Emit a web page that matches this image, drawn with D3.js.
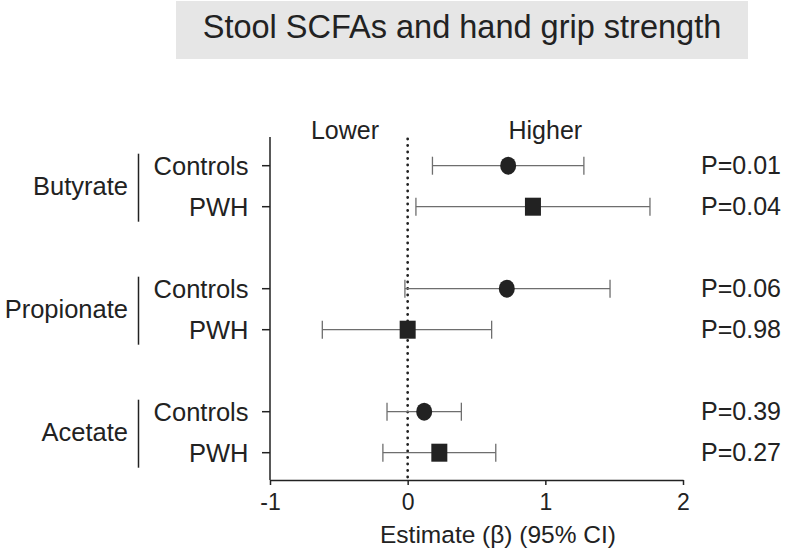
<!DOCTYPE html>
<html>
<head>
<meta charset="utf-8">
<script src="https://cdn.jsdelivr.net/npm/d3@7"></script>
<style>
  html, body { margin: 0; padding: 0; background: #fff; }
  svg { display: block; font-family: "Liberation Sans", Arial, Helvetica, sans-serif; }
</style>
</head>
<body>
<svg id="chart" width="792" height="551"></svg>
<script>
// ---- Data ----
const title = "Stool SCFAs and hand grip strength";
const groups = ["Butyrate", "Propionate", "Acetate"];
const subgroups = ["Controls", "PWH"];
const estimates = [0.73, 0.91, 0.72, 0.00, 0.12, 0.23];
const ciLower = [0.18, 0.06, -0.02, -0.62, -0.15, -0.18];
const ciUpper = [1.28, 1.76, 1.47, 0.61, 0.39, 0.64];
const pLabels = ["P=0.01", "P=0.04", "P=0.06", "P=0.98", "P=0.39", "P=0.27"];
const xTicks = [-1, 0, 1, 2];
const xTickLabels = ["-1", "0", "1", "2"];
const xLabel = "Estimate (\u03B2) (95% CI)";
const directionLabels = ["Lower", "Higher"];

// ---- Build rows ----
const rows = [];
groups.forEach((g, gi) => subgroups.forEach((s, si) => {
  const i = gi * subgroups.length + si;
  rows.push({ key: g + "|" + s, group: g, sub: s, est: estimates[i], lo: ciLower[i], hi: ciUpper[i], p: pLabels[i] });
}));
// slot domain with spacer between groups
const slots = [];
groups.forEach((g, gi) => {
  subgroups.forEach(s => slots.push(g + "|" + s));
  if (gi < groups.length - 1) slots.push("gap" + gi);
});

const svg = d3.select("#chart");
const ink = "#222";
const barColor = "#6e6e6e";

const x = d3.scaleLinear().domain([-1, 2]).range([270, 683]);
const y = d3.scalePoint().domain(slots).range([165.7, 452.7]);
const axisY = 480;
const axisTop = 137;

// ---- Title box ----
svg.append("rect").attr("x", 176).attr("y", 1).attr("width", 572).attr("height", 58)
  .attr("fill", "#e6e6e6");
svg.append("text").attr("x", 462).attr("y", 37.5).attr("text-anchor", "middle")
  .attr("font-size", 32.5).attr("fill", ink).text(title);

// ---- X axis ----
const xAxis = d3.axisBottom(x).tickValues(xTicks)
  .tickFormat((d, i) => xTickLabels[i])
  .tickSize(5).tickSizeOuter(0).tickPadding(9);
const gx = svg.append("g").attr("transform", `translate(0,${axisY})`).call(xAxis);
gx.select(".domain").attr("stroke", ink).attr("stroke-width", 1.5);
gx.selectAll(".tick line").attr("stroke", ink).attr("stroke-width", 1.5);
gx.selectAll(".tick text").attr("font-size", 23).attr("fill", ink).attr("font-family", null);

svg.append("text").attr("x", 498).attr("y", 542.5).attr("text-anchor", "middle")
  .attr("font-size", 24.5).attr("fill", ink).text(xLabel);

// ---- Y axis line and ticks ----
svg.append("line").attr("x1", x(-1)).attr("x2", x(-1)).attr("y1", axisTop).attr("y2", axisY)
  .attr("stroke", ink).attr("stroke-width", 1.5);
svg.selectAll(".ytick").data(rows).enter().append("line")
  .attr("x1", x(-1) - 8).attr("x2", x(-1))
  .attr("y1", d => y(d.key)).attr("y2", d => y(d.key))
  .attr("stroke", ink).attr("stroke-width", 1.5);

// ---- Zero reference (dotted) ----
svg.append("line").attr("x1", x(0)).attr("x2", x(0)).attr("y1", axisTop + 2).attr("y2", axisY)
  .attr("stroke", ink).attr("stroke-width", 2.8).attr("stroke-linecap", "round")
  .attr("stroke-dasharray", "0,6.5");

// ---- Direction labels ----
svg.append("text").attr("x", x(-0.455)).attr("y", 138.5).attr("text-anchor", "middle")
  .attr("font-size", 25).attr("fill", ink).text(directionLabels[0]);
svg.append("text").attr("x", x(1)).attr("y", 138.5).attr("text-anchor", "middle")
  .attr("font-size", 25).attr("fill", ink).text(directionLabels[1]);

// ---- Row labels ----
svg.selectAll(".rowlab").data(rows).enter().append("text")
  .attr("x", 248.5).attr("y", d => y(d.key) + 9.5).attr("text-anchor", "end")
  .attr("font-size", 25.5).attr("fill", ink).text(d => d.sub);

// ---- Group labels and brackets ----
groups.forEach(g => {
  const ys = subgroups.map(s => y(g + "|" + s));
  const mid = (ys[0] + ys[ys.length - 1]) / 2;
  svg.append("line").attr("x1", 138.5).attr("x2", 138.5)
    .attr("y1", ys[0] - 12).attr("y2", ys[ys.length - 1] + 15)
    .attr("stroke", ink).attr("stroke-width", 1.5);
  svg.append("text").attr("x", 128).attr("y", mid + 9)
    .attr("text-anchor", "end").attr("font-size", 25.5).attr("fill", ink).text(g);
});

// ---- Error bars ----
const capH = 9;
const eb = svg.append("g");
eb.selectAll(".ci").data(rows).enter().append("line")
  .attr("x1", d => x(d.lo)).attr("x2", d => x(d.hi))
  .attr("y1", d => y(d.key)).attr("y2", d => y(d.key))
  .attr("stroke", barColor).attr("stroke-width", 1.3);
eb.selectAll(".capL").data(rows).enter().append("line")
  .attr("x1", d => x(d.lo)).attr("x2", d => x(d.lo))
  .attr("y1", d => y(d.key) - capH).attr("y2", d => y(d.key) + capH)
  .attr("stroke", barColor).attr("stroke-width", 1.3);
eb.selectAll(".capR").data(rows).enter().append("line")
  .attr("x1", d => x(d.hi)).attr("x2", d => x(d.hi))
  .attr("y1", d => y(d.key) - capH).attr("y2", d => y(d.key) + capH)
  .attr("stroke", barColor).attr("stroke-width", 1.3);

// ---- Markers ----
svg.selectAll(".circ").data(rows.filter(d => d.sub === subgroups[0])).enter().append("ellipse")
  .attr("cx", d => x(d.est)).attr("cy", d => y(d.key)).attr("rx", 8).attr("ry", 9)
  .attr("fill", ink);
svg.selectAll(".sq").data(rows.filter(d => d.sub === subgroups[1])).enter().append("rect")
  .attr("x", d => x(d.est) - 8).attr("y", d => y(d.key) - 9).attr("width", 16).attr("height", 18)
  .attr("fill", ink);

// ---- P values ----
svg.selectAll(".pval").data(rows).enter().append("text")
  .attr("x", 781).attr("y", d => y(d.key) + 8).attr("text-anchor", "end")
  .attr("font-size", 25).attr("fill", ink).text(d => d.p);
</script>
</body>
</html>
